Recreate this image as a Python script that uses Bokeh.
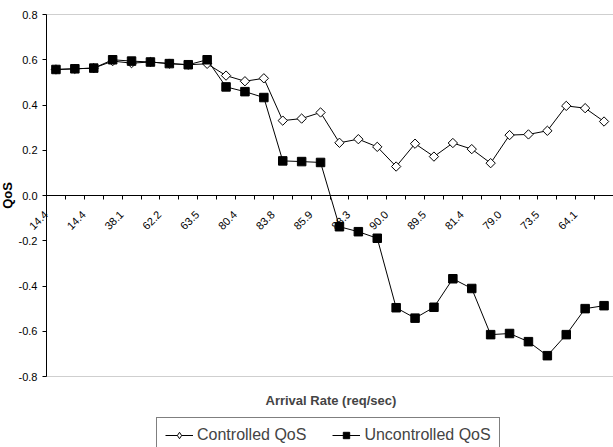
import numpy as np
from math import pi
from bokeh.plotting import figure
from bokeh.layouts import column
from bokeh.models import (Range1d, FixedTicker, Legend, LegendItem, Title, BoxAnnotation)
from bokeh.core.properties import value
from bokeh.embed import file_html
from bokeh.resources import INLINE

# ---- data ----
tick_labels = ["14.4", "14.4", "38.1", "62.2", "63.5", "80.4", "83.8", "85.9",
               "88.3", "90.0", "89.5", "81.4", "79.0", "73.5", "64.1"]
controlled = [0.557, 0.560, 0.563, 0.594, 0.585, 0.590, 0.583, 0.578, 0.582,
              0.530, 0.505, 0.518, 0.331, 0.340, 0.367, 0.233, 0.249, 0.215,
              0.128, 0.229, 0.172, 0.232, 0.205, 0.143, 0.267, 0.270, 0.286,
              0.396, 0.386, 0.327]
uncontrolled = [0.557, 0.560, 0.563, 0.600, 0.594, 0.590, 0.583, 0.578, 0.600,
                0.480, 0.459, 0.433, 0.153, 0.150, 0.146, -0.138, -0.160, -0.189,
                -0.496, -0.542, -0.494, -0.368, -0.411, -0.615, -0.610, -0.646,
                -0.708, -0.615, -0.500, -0.487]
x = list(range(len(controlled)))
label_x = x[::2]
y_ticks = [-0.8, -0.6, -0.4, -0.2, 0.0, 0.2, 0.4, 0.6, 0.8]

FONT = "Liberation Sans"
X0, X1 = -0.5, len(x) - 0.5      # category extent
Y0, Y1 = -0.8, 0.8
W = 613
LEFT_PAD = 46                    # pixels left of the value axis
PLOT_H = 362                     # pixel height of the value axis
V_PAD = 8                        # room for the end tick labels
unit = (W - LEFT_PAD) / (X1 - X0)
vpad = V_PAD * (Y1 - Y0) / PLOT_H

# ---- main chart ----
p = figure(width=W, height=414, output_backend="svg", toolbar_location=None,
           x_range=Range1d(X0 - LEFT_PAD / unit, X1),
           y_range=Range1d(Y0 - vpad, Y1 + vpad),
           min_border_left=0, min_border_top=14 - V_PAD, min_border_right=0,
           min_border_bottom=30)
p.xgrid.visible = False
p.ygrid.visible = False
p.outline_line_color = None
p.background_fill_color = "white"
p.border_fill_color = "white"

# plot-area border (top / bottom lines)
p.add_layout(BoxAnnotation(left=X0, right=X1, bottom=Y0, top=Y1, fill_alpha=0,
                           line_color="#606060", line_width=1, level="underlay"))

p.line(x, controlled, line_color="black", line_width=1)
p.scatter(x, controlled, marker="square", size=6.6, angle=pi / 4,
          fill_color="white", line_color="black", line_width=1)
p.line(x, uncontrolled, line_color="black", line_width=1)
p.scatter(x, uncontrolled, marker="square", size=8.5,
          fill_color="black", line_color="black")

# x axis at y = 0
xa = p.xaxis[0]
xa.fixed_location = 0
xa.bounds = (X0, X1)
xa.ticker = FixedTicker(ticks=label_x, minor_ticks=[i + 0.5 for i in range(-1, len(x))])
xa.major_label_text_font_size = "0px"
xa.major_label_text_color = None
xa.major_tick_in = 0
xa.major_tick_out = 0
xa.minor_tick_in = 0
xa.minor_tick_out = 4
xa.minor_tick_line_color = "black"
xa.axis_line_color = "black"

# rotated category labels hanging from the zero line
p.text(x=label_x, y=[0] * len(label_x), text=tick_labels, angle=pi / 4,
       text_align="right", text_baseline="middle", x_offset=-10, y_offset=17,
       text_font=value(FONT), text_font_size="11px", text_color="black")

# y axis at the first category edge
ya = p.yaxis[0]
ya.fixed_location = X0
ya.bounds = (Y0, Y1)
ya.ticker = FixedTicker(ticks=y_ticks)
ya.major_label_overrides = {v: f"{v:.1f}" for v in y_ticks}
ya.major_tick_in = 0
ya.major_tick_out = 4
ya.minor_tick_line_color = None
ya.axis_line_color = "black"
ya.major_tick_line_color = "black"
ya.major_label_standoff = 5
ya.major_label_text_font = FONT
ya.major_label_text_font_size = "11px"
ya.major_label_text_color = "black"
ya.axis_label = "QoS"
ya.axis_label_standoff = 1
ya.axis_label_text_font = FONT
ya.axis_label_text_font_size = "13px"
ya.axis_label_text_font_style = "bold"
ya.axis_label_text_color = "black"

p.add_layout(Title(text="Arrival Rate (req/sec)", align="left", offset=265,
                   text_font=FONT, text_font_size="13px", text_font_style="bold",
                   standoff=13), "below")

# ---- legend strip ----
q = figure(width=W, height=33, output_backend="svg", toolbar_location=None,
           x_axis_type=None, y_axis_type=None,
           x_range=Range1d(1000, 1001), y_range=Range1d(1000, 1001),
           min_border=0)
q.outline_line_color = None
q.xgrid.visible = False
q.ygrid.visible = False
q.background_fill_color = "white"
q.border_fill_color = "white"
lc = q.line(x, controlled, line_color="black", line_width=1)
mc = q.scatter(x, controlled, marker="diamond", size=10,
               fill_color="white", line_color="black", line_width=1)
lu = q.line(x, uncontrolled, line_color="black", line_width=1)
mu = q.scatter(x, uncontrolled, marker="square", size=7,
               fill_color="black", line_color="black")

legend = Legend(items=[LegendItem(label="Controlled QoS", renderers=[lc, mc]),
                       LegendItem(label="Uncontrolled QoS", renderers=[lu, mu])],
                orientation="horizontal", location=(156, -6),
                label_text_font=FONT, label_text_font_size="16px",
                border_line_color="black", border_line_width=1,
                background_fill_color="white",
                glyph_width=28, glyph_height=16, label_standoff=4,
                spacing=26, padding=8, margin=0, label_height=16)
q.add_layout(legend, "center")

open("out.html", "w").write(file_html(column(p, q, spacing=0), INLINE))
